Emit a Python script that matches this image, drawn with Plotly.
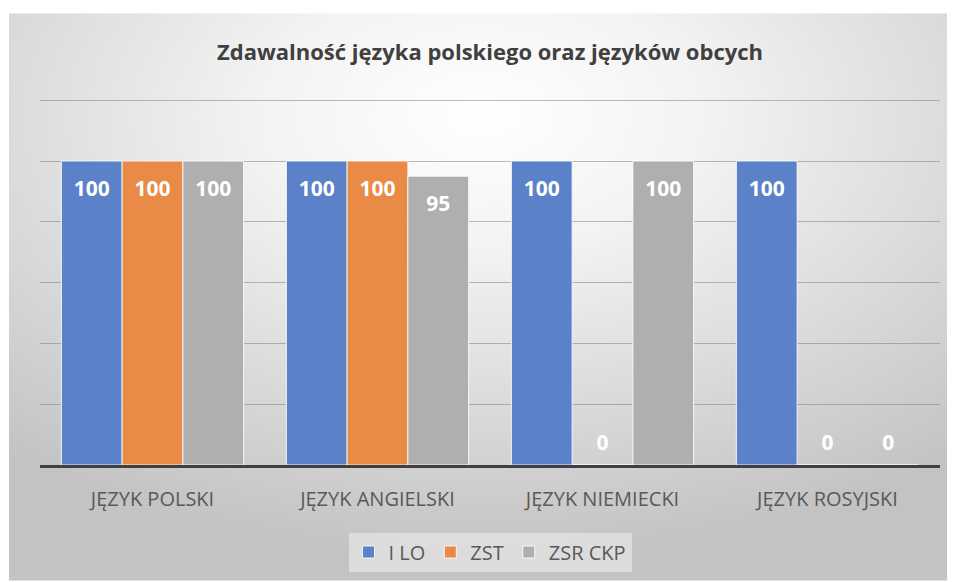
import base64
import plotly.graph_objects as go

categories = ["JĘZYK POLSKI", "JĘZYK ANGIELSKI", "JĘZYK NIEMIECKI", "JĘZYK ROSYJSKI"]
series_names = ["I LO", "ZST", "ZSR CKP"]
i_lo = [100, 100, 100, 100]
zst = [100, 100, 0, 0]
zsr_ckp = [100, 95, 100, 0]
colors = ["#5B82C9", "#EA8A47", "#AFAFAF"]

title_text = "Zdawalność języka polskiego oraz języków obcych"

OFF = 8  # page body margin
W, H = 955 - OFF, 582 - OFF
L, R, T, B = 40 - OFF, W - (940 - OFF), 99 - OFF, H - (466 - OFF)
pw, ph = W - L - R, H - T - B


def px_to_paper_x(px):
    return (px - OFF - L) / pw


def px_to_paper_y(py):
    return (H - B - (py - OFF)) / ph


bw, bh = 946, 569
svg = (
    f'<svg xmlns="http://www.w3.org/2000/svg" width="{bw}" height="{bh}" viewBox="0 0 {bw} {bh}" preserveAspectRatio="none">'
    '<defs><radialGradient id="g" cx="50%" cy="18%" r="78%" fx="50%" fy="18%">'
    '<stop offset="0%" stop-color="#ffffff"/>'
    '<stop offset="30%" stop-color="#f3f3f3"/>'
    '<stop offset="100%" stop-color="#c3c3c3"/>'
    '</radialGradient></defs>'
    f'<rect x="0" y="0" width="{bw}" height="{bh}" fill="url(#g)"/></svg>'
)
bg_src = "data:image/svg+xml;base64," + base64.b64encode(svg.encode()).decode()

fig = go.Figure()
all_series = [i_lo, zst, zsr_ckp]
for name, vals, col in zip(series_names, all_series, colors):
    fig.add_trace(go.Bar(
        x=categories, y=vals, name=name,
        marker=dict(color=col, line=dict(color="rgba(255,255,255,0.85)", width=1)),
        hoverinfo="skip",
    ))
for name, vals in zip(series_names, all_series):
    fig.add_trace(go.Scatter(
        x=categories, y=vals, mode="markers+text",
        text=[str(v) for v in vals],
        textposition=["bottom center" if v > 0 else "top center" for v in vals],
        textfont=dict(family="Open Sans", size=21, color="white", weight="bold"),
        marker=dict(size=[29 if v > 0 else 14 for v in vals], color="rgba(0,0,0,0)",
                    line=dict(width=0, color="rgba(0,0,0,0)")),
        showlegend=False, hoverinfo="skip", cliponaxis=False,
    ))

fig.update_layout(
    width=W, height=H,
    margin=dict(l=L, r=R, t=T, b=B),
    paper_bgcolor="white",
    plot_bgcolor="rgba(0,0,0,0)",
    barmode="group", bargap=0.19, bargroupgap=0,
    scattermode="group", scattergap=0.19,
    title=dict(text="<b>" + title_text + "</b>", x=0.5, xref="paper", xanchor="center",
               y=1 - (52 - OFF) / H, yanchor="middle",
               font=dict(family="Open Sans", size=22, color="#404040")),
    xaxis=dict(showgrid=False, showline=True, linecolor="#404040", linewidth=3,
               ticks="", ticklabelstandoff=14,
               tickfont=dict(family="Open Sans", size=20, color="#595959")),
    yaxis=dict(range=[0, 120.4], tickvals=[20, 40, 60, 80, 100, 120], showticklabels=False,
               showgrid=True, gridcolor="rgba(120,120,120,0.5)", gridwidth=1, zeroline=False),
    legend=dict(orientation="h", x=0.5, xanchor="center", y=px_to_paper_y(552), yanchor="middle",
                bgcolor="rgba(240,240,240,0.55)",
                font=dict(family="Open Sans", size=20, color="#595959"),
                itemwidth=30, traceorder="normal"),
    images=[dict(source=bg_src, xref="paper", yref="paper",
                 x=px_to_paper_x(9), y=px_to_paper_y(13),
                 sizex=px_to_paper_x(955) - px_to_paper_x(9),
                 sizey=px_to_paper_y(13) - px_to_paper_y(582),
                 xanchor="left", yanchor="top", sizing="stretch", layer="below")],
)

fig.write_html("out.html")
